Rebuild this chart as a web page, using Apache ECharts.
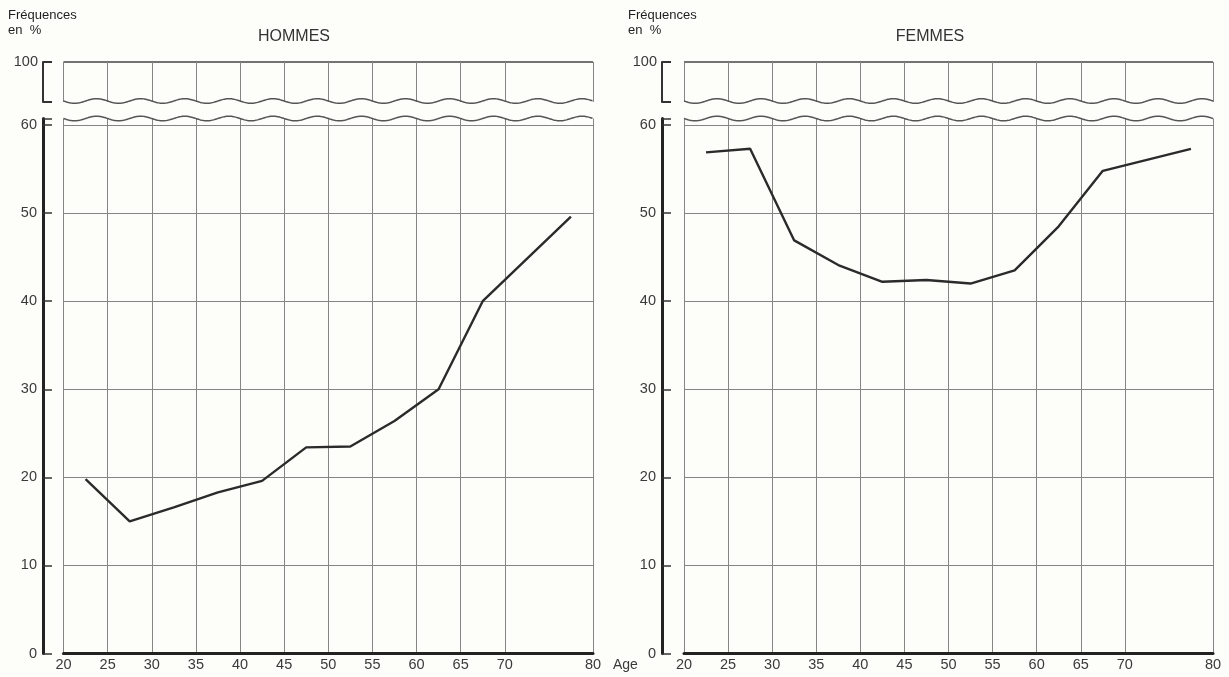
<!DOCTYPE html>
<html>
<head>
<meta charset="utf-8">
<script src="https://cdn.jsdelivr.net/npm/echarts@6/dist/echarts.min.js"></script>
<style>
html,body{margin:0;padding:0;background:#fdfdfa;}
#chart{width:1229px;height:677px;}
</style>
</head>
<body>
<div id="chart"></div>
<script>
// ---- data ----
const ages = [22.5, 27.5, 32.5, 37.5, 42.5, 47.5, 52.5, 57.5, 62.5, 67.5, 77.5];
const hommes = [19.8, 15.0, 16.6, 18.3, 19.6, 23.4, 23.5, 26.4, 30.0, 40.0, 49.6];
const femmes = [56.9, 57.3, 46.9, 44.1, 42.2, 42.4, 42.0, 43.5, 48.5, 54.8, 57.3];
const xTickValues = [20, 25, 30, 35, 40, 45, 50, 55, 60, 65, 70, 80];
const panelTitles = ['HOMMES', 'FEMMES'];
const yTitleLines = ['Fréquences', 'en  %'];
const xTitle = 'Age';

// ---- layout ----
const FONT = '"Liberation Sans", Arial, sans-serif';
const LOWER_MAX = 60.74;
const UPPER_MIN = 90, UPPER_MAX = 100;
const panels = [
  { left: 63.5, width: 529.5, offset: 20.5 },
  { left: 684, width: 529, offset: 22 }
];
const upperTop = 62, upperH = 40, lowerTop = 118.5, lowerH = 535;

const grids = [], xAxes = [], yAxes = [], series = [];

function waveRenderer(yVal, dy) {
  return function (params, api) {
    const p0 = api.coord([20, yVal]);
    const p1 = api.coord([80, yVal]);
    const per = (p1[0] - p0[0]) / 12;
    const pts = [];
    for (let x = p0[0]; x <= p1[0] + 0.01; x += 1) {
      pts.push([x, p0[1] + dy + 2.3 * Math.sin(2 * Math.PI * (x - p0[0]) / per)]);
    }
    return { type: 'polyline', shape: { points: pts }, style: { stroke: '#555', lineWidth: 1.5, fill: null } };
  };
}

panels.forEach((p, k) => {
  const gu = grids.length;
  grids.push({ left: p.left, width: p.width, top: upperTop, height: upperH });
  const gl = grids.length;
  grids.push({ left: p.left, width: p.width, top: lowerTop, height: lowerH });

  // upper x axis
  xAxes.push({
    gridIndex: gu, type: 'value', min: 20, max: 80,
    axisLine: { show: false },
    axisTick: { show: false, customValues: xTickValues },
    axisLabel: { show: false, customValues: xTickValues },
    splitLine: { show: true, lineStyle: { color: '#858585', width: 1 } }
  });
  // lower x axis
  xAxes.push({
    gridIndex: gl, type: 'value', min: 20, max: 80,
    axisLine: { show: true, onZero: false, lineStyle: { color: '#222', width: 3 } },
    axisTick: { show: false, customValues: xTickValues },
    axisLabel: { customValues: xTickValues, color: '#3a3a3a', fontSize: 14.5, fontFamily: FONT, margin: 4 },
    splitLine: { show: true, lineStyle: { color: '#858585', width: 1 } }
  });
  // upper y axis (break bracket)
  yAxes.push({
    gridIndex: gu, type: 'value', min: UPPER_MIN, max: UPPER_MAX, interval: 10,
    position: 'left', offset: p.offset,
    axisLine: { show: true, lineStyle: { color: '#333', width: 2 } },
    axisTick: { show: true, inside: true, length: 9, lineStyle: { color: '#333', width: 2 } },
    axisLabel: { formatter: v => (v === 100 ? '100' : ''), color: '#3a3a3a', fontSize: 14.5, fontFamily: FONT, margin: 5 },
    splitLine: { show: true, showMinLine: false, lineStyle: { color: '#444', width: 1.5 } }
  });
  // lower y axis
  yAxes.push({
    gridIndex: gl, type: 'value', min: 0, max: LOWER_MAX, interval: 10,
    position: 'left', offset: p.offset,
    axisLine: { show: true, lineStyle: { color: '#222', width: 3 } },
    axisTick: { show: true, inside: true, length: 9, lineStyle: { color: '#333', width: 1.5 } },
    axisLabel: { formatter: v => (Math.abs(v % 10) < 1e-6 ? String(Math.round(v)) : ''), color: '#3a3a3a', fontSize: 14.5, fontFamily: FONT, margin: 6 },
    splitLine: { show: true, showMaxLine: false, lineStyle: { color: '#858585', width: 1 } }
  });

  const vals = k === 0 ? hommes : femmes;
  series.push({
    type: 'line', xAxisIndex: gl, yAxisIndex: gl,
    data: ages.map((a, i) => [a, vals[i]]),
    showSymbol: false, symbol: 'none', silent: true,
    lineStyle: { color: '#2b2b2b', width: 2.4 }, z: 5
  });
  series.push({
    type: 'custom', xAxisIndex: gu, yAxisIndex: gu, clip: false, silent: true,
    data: [[20, UPPER_MIN]], renderItem: waveRenderer(UPPER_MIN, -1), z: 4
  });
  series.push({
    type: 'custom', xAxisIndex: gl, yAxisIndex: gl, clip: false, silent: true,
    data: [[20, LOWER_MAX]], renderItem: waveRenderer(LOWER_MAX, 0), z: 4
  });
});

const txt = (x, y, text, size, extra) => Object.assign({
  type: 'text', x: x, y: y,
  style: Object.assign({ text: text, fill: '#1e1e1e', font: size + 'px ' + FONT, textVerticalAlign: 'middle' }, extra || {})
});

const graphic = [
  txt(8, 15, yTitleLines[0], 13),
  txt(8, 30, yTitleLines[1], 13),
  txt(628, 15, yTitleLines[0], 13),
  txt(628, 30, yTitleLines[1], 13),
  txt(294, 37, panelTitles[0], 16, { textAlign: 'center', fill: '#333' }),
  txt(930, 37, panelTitles[1], 16, { textAlign: 'center', fill: '#333' }),
  txt(613, 665, xTitle, 14, { fill: '#3a3a3a' })
];

const chart = echarts.init(document.getElementById('chart'), null, { renderer: 'canvas' });
chart.setOption({
  backgroundColor: '#fdfdfa',
  animation: false,
  grid: grids,
  xAxis: xAxes,
  yAxis: yAxes,
  series: series,
  graphic: graphic
});
</script>
</body>
</html>
